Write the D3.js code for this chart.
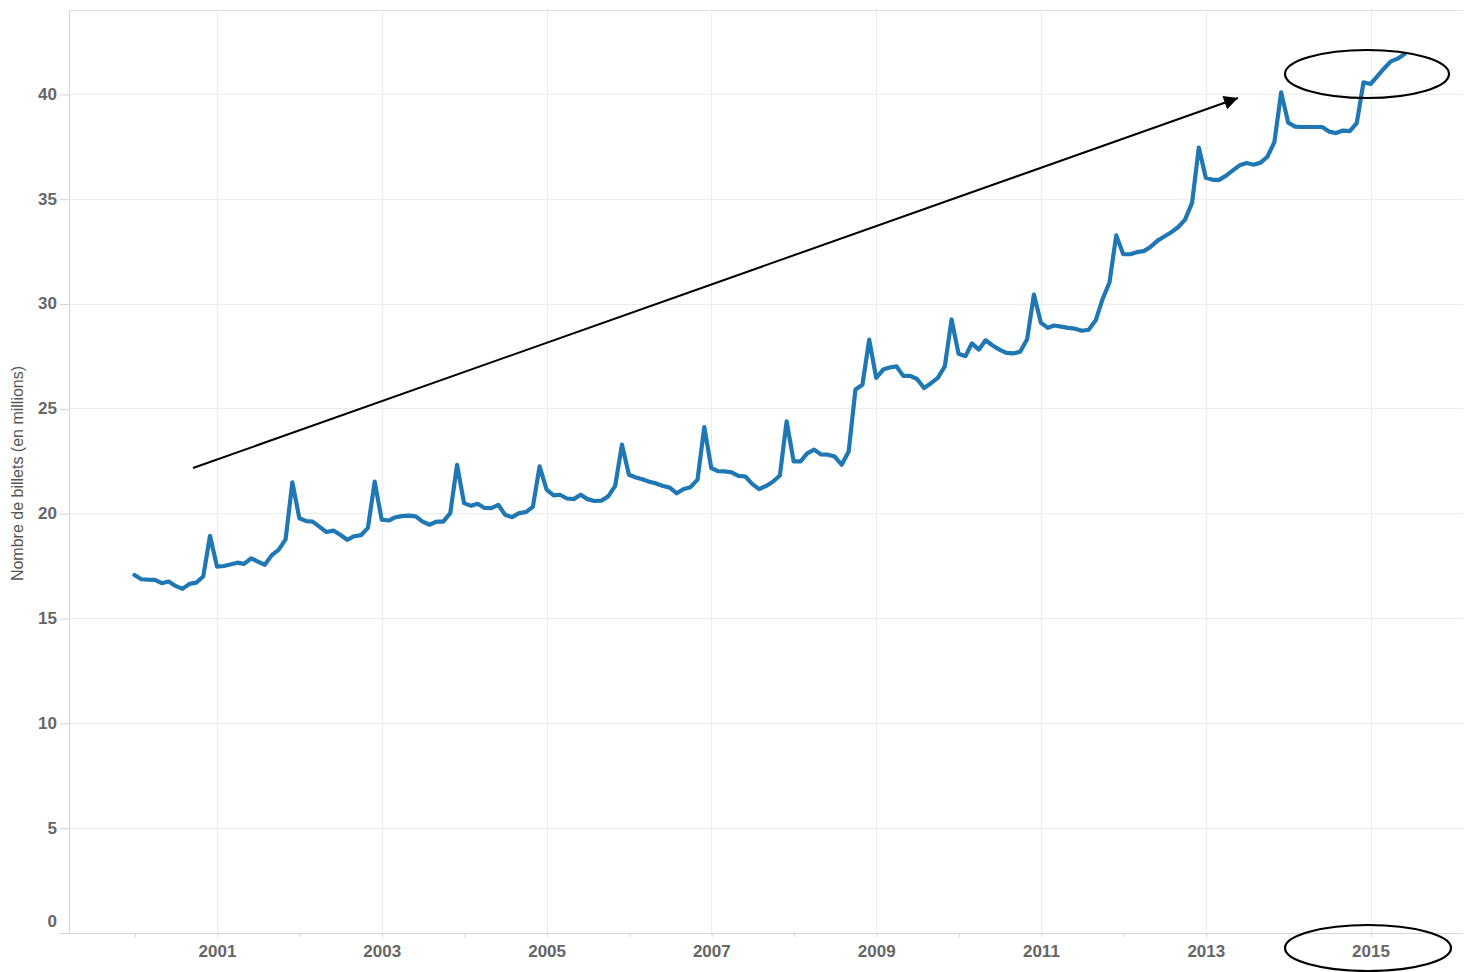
<!DOCTYPE html>
<html>
<head>
<meta charset="utf-8">
<script src="https://cdn.jsdelivr.net/npm/d3@7"></script>
<style>
  body { margin: 0; background: #fff; }
  svg { display: block; font-family: "Liberation Sans", Arial, sans-serif; }
</style>
</head>
<body>
<div id="root"></div>
<script>
// premier mois de la série : janvier 2000
const startYear = 2000;
const startMonth = 0;

// nombre de billets en circulation (millions), un point par mois
const v2000 = [17.05, 16.85, 16.83, 16.82, 16.66, 16.74, 16.53, 16.39, 16.63, 16.69, 16.98, 18.92];
const v2001 = [17.45, 17.48, 17.55, 17.64, 17.58, 17.85, 17.69, 17.54, 18.0, 18.25, 18.75, 21.47];
const v2002 = [19.76, 19.62, 19.6, 19.35, 19.1, 19.17, 18.97, 18.73, 18.9, 18.95, 19.3, 21.51];
const v2003 = [19.69, 19.65, 19.8, 19.86, 19.88, 19.85, 19.6, 19.45, 19.6, 19.6, 20.0, 22.31];
const v2004 = [20.48, 20.35, 20.45, 20.25, 20.24, 20.4, 19.92, 19.81, 20.0, 20.05, 20.3, 22.23];
const v2005 = [21.12, 20.85, 20.88, 20.7, 20.67, 20.88, 20.67, 20.58, 20.6, 20.8, 21.3, 23.27];
const v2006 = [21.83, 21.7, 21.62, 21.5, 21.42, 21.3, 21.22, 20.95, 21.15, 21.24, 21.6, 24.11];
const v2007 = [22.15, 22.0, 21.99, 21.95, 21.78, 21.75, 21.4, 21.15, 21.3, 21.5, 21.8, 24.38];
const v2008 = [22.47, 22.47, 22.85, 23.03, 22.8, 22.79, 22.7, 22.31, 22.94, 25.9, 26.13, 28.28];
const v2009 = [26.45, 26.85, 26.95, 27.0, 26.55, 26.55, 26.4, 25.97, 26.2, 26.45, 27.0, 29.24];
const v2010 = [27.6, 27.49, 28.1, 27.8, 28.25, 28.0, 27.8, 27.65, 27.62, 27.7, 28.3, 30.43];
const v2011 = [29.08, 28.84, 28.95, 28.9, 28.84, 28.8, 28.7, 28.75, 29.2, 30.2, 31.0, 33.25];
const v2012 = [32.35, 32.35, 32.45, 32.5, 32.7, 33.0, 33.2, 33.4, 33.65, 34.0, 34.8, 37.44];
const v2013 = [36.0, 35.9, 35.9, 36.1, 36.35, 36.6, 36.7, 36.62, 36.72, 37.0, 37.7, 40.07];
const v2014 = [38.63, 38.44, 38.42, 38.42, 38.42, 38.42, 38.2, 38.13, 38.25, 38.22, 38.6, 40.55];
const v2015 = [40.47, 40.85, 41.2, 41.55, 41.68, 41.9];

const yTicks = [0, 5, 10, 15, 20, 25, 30, 35, 40];
const xTickYears = [2000, 2001, 2002, 2003, 2004, 2005, 2006, 2007, 2008, 2009, 2010, 2011, 2012, 2013, 2014, 2015];
const xLabelYears = [2001, 2003, 2005, 2007, 2009, 2011, 2013, 2015];

const yTitle = "Nombre de billets (en millions)";

const outerWidth = 1475;
const outerHeight = 972;

const plot = { left: 69, right: 1463, top: 10, bottom: 933 };

const serie = [v2000, v2001, v2002, v2003, v2004, v2005, v2006, v2007,
               v2008, v2009, v2010, v2011, v2012, v2013, v2014, v2015].flat();
const data = serie.map((v, i) => ({ date: new Date(startYear, startMonth + i, 1), value: v }));

const x = d3.scaleTime()
    .domain([new Date(2001, 0, 1), new Date(2015, 0, 1)])
    .range([217, 1370.5]);

const y = d3.scaleLinear()
    .domain([0, 44])
    .range([plot.bottom - 0.5, plot.top]);

const svg = d3.select("#root")
    .append("svg")
    .attr("width", outerWidth)
    .attr("height", outerHeight);

// grille
const grid = svg.append("g").attr("stroke", "#ececec").attr("stroke-width", 1);

grid.selectAll(".hgrid")
    .data(yTicks)
    .enter().append("line")
    .attr("x1", plot.left)
    .attr("x2", plot.right)
    .attr("y1", d => Math.round(y(d)) + 0.5)
    .attr("y2", d => Math.round(y(d)) + 0.5);

grid.selectAll(".vgrid")
    .data(xLabelYears)
    .enter().append("line")
    .attr("x1", d => Math.round(x(new Date(d, 0, 1))) + 0.5)
    .attr("x2", d => Math.round(x(new Date(d, 0, 1))) + 0.5)
    .attr("y1", plot.top)
    .attr("y2", plot.bottom);

// bordure haute
svg.append("line")
    .attr("x1", plot.left).attr("x2", plot.right)
    .attr("y1", plot.top + 0.5).attr("y2", plot.top + 0.5)
    .attr("stroke", "#e2e2e2");

// axes
let yAxis = d3.axisLeft(y).tickValues(yTicks).tickSize(9).tickPadding(3);
let xAxis = d3.axisBottom(x)
    .tickValues(xTickYears.map(yr => new Date(yr, 0, 1)))
    .tickSize(4)
    .tickPadding(8)
    .tickFormat(d => xLabelYears.includes(d.getFullYear()) ? d.getFullYear() : "");

let gy = svg.append("g")
    .attr("transform", `translate(${plot.left},0)`)
    .call(yAxis);
let gx = svg.append("g")
    .attr("transform", `translate(0,${plot.bottom})`)
    .call(xAxis);

[gy, gx].forEach(g => {
    g.select(".domain").remove();
    g.selectAll(".tick line").attr("stroke", "#d4d4d4");
    g.selectAll(".tick text")
        .attr("fill", "#666")
        .style("font-family", "'Liberation Sans', Arial, sans-serif")
        .style("font-size", "17px")
        .style("font-weight", "bold");
});
gy.selectAll(".tick line").attr("transform", "translate(0,0.5)");
gx.selectAll(".tick line").attr("transform", "translate(0.5,0)");
// le libellé 0 est remonté au-dessus de l'axe
gy.selectAll(".tick text").filter(d => d === 0).attr("y", -11);

svg.append("line")
    .attr("x1", plot.left + 0.5).attr("x2", plot.left + 0.5)
    .attr("y1", plot.top).attr("y2", plot.bottom)
    .attr("stroke", "#d4d4d4");
svg.append("line")
    .attr("x1", 60).attr("x2", plot.right)
    .attr("y1", plot.bottom + 0.5).attr("y2", plot.bottom + 0.5)
    .attr("stroke", "#d4d4d4");

svg.append("text")
    .attr("transform", `translate(23, ${(plot.top + plot.bottom) / 2 + 2}) rotate(-90)`)
    .style("text-anchor", "middle")
    .style("font-size", "16px")
    .attr("fill", "#555")
    .text(yTitle);

// courbe
const line = d3.line()
    .x(d => x(d.date))
    .y(d => y(d.value));

svg.append("path")
    .datum(data)
    .attr("fill", "none")
    .attr("stroke", "#1f77b4")
    .attr("stroke-width", 4.2)
    .attr("stroke-linejoin", "round")
    .attr("stroke-linecap", "round")
    .attr("d", line);

// annotations : flèche et ellipses
svg.append("defs").append("marker")
    .attr("id", "fleche")
    .attr("viewBox", "0 0 10 10")
    .attr("refX", 10).attr("refY", 5)
    .attr("markerWidth", 8).attr("markerHeight", 7)
    .attr("markerUnits", "strokeWidth")
    .attr("orient", "auto")
    .append("path")
    .attr("d", "M0,0 L10,5 L0,10 Z")
    .attr("fill", "#000");

svg.append("line")
    .attr("x1", 193).attr("y1", 468)
    .attr("x2", 1238).attr("y2", 98)
    .attr("stroke", "#000")
    .attr("stroke-width", 2)
    .attr("marker-end", "url(#fleche)");

svg.append("ellipse")
    .attr("cx", 1367).attr("cy", 74)
    .attr("rx", 82).attr("ry", 24)
    .attr("fill", "none").attr("stroke", "#000").attr("stroke-width", 2.2);

svg.append("ellipse")
    .attr("cx", 1368).attr("cy", 948)
    .attr("rx", 83).attr("ry", 23)
    .attr("fill", "none").attr("stroke", "#000").attr("stroke-width", 2.2);
</script>
</body>
</html>
